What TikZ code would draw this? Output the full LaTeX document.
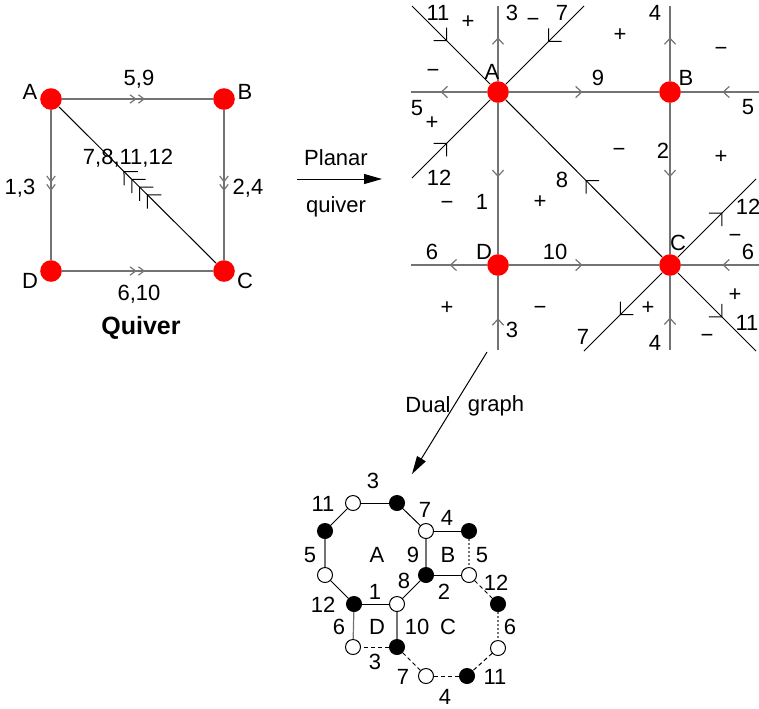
\documentclass[tikz,border=0pt]{standalone}
\usepackage{fontspec}
\setmainfont{Liberation Sans}
\usetikzlibrary{arrows.meta,decorations.markings}

\tikzset{
  sb/.tip={Straight Barb[length=3pt,width=5.6pt]},
  db/.tip={Straight Barb[length=2.8pt,width=4.2pt,sep=0.6pt]Straight Barb[length=2.8pt,width=4.2pt]},
  bb/.tip={Straight Barb[length=4.6pt,width=9.2pt]},
  qb/.tip={Straight Barb[length=4.9pt,width=9.8pt,sep=0pt]Straight Barb[length=4.9pt,width=9.8pt,sep=0pt]Straight Barb[length=4.9pt,width=9.8pt,sep=0pt]Straight Barb[length=4.9pt,width=9.8pt]},
  mk/.style 2 args={postaction={decorate,decoration={markings,mark=at position #1 with {\arrow{#2}}}}},
  vtx/.style={circle,fill=red,inner sep=0pt,minimum size=10.8pt},
  wv/.style={circle,draw,fill=white,inner sep=0pt,minimum size=7.5pt,line width=0.5pt},
  bv/.style={wv,fill=black},
  gl/.style={draw=black!55,line width=0.6pt},
  dl/.style={draw=black,line width=0.5pt},
  lbl/.style={inner sep=0pt,font=\fontsize{11}{13}\selectfont},
}

\begin{document}
\begin{tikzpicture}[x=0.5pt,y=-0.5pt,>={Triangle[length=9pt,width=5pt]}]
\useasboundingbox (0,0) rectangle (759,708);

% quiver
\node[vtx] (A) at (51,99) {};
\node[vtx] (B) at (224,99) {};
\node[vtx] (C) at (224,271) {};
\node[vtx] (D) at (51,271) {};
\draw[gl,mk={0.55}{db}] (A) -- (B);
\draw[gl,mk={0.54}{db}] (A) -- (D);
\draw[gl,mk={0.54}{db}] (B) -- (C);
\draw[gl,mk={0.55}{db}] (D) -- (C);
\draw[dl,mk={0.59}{qb}] (C) -- (A);
\foreach \x/\y/\t [count=\i] in {30/92/A,245/92/B,245/281/C,30/281/D,139/79/{5,9},20/188/{1,3},
    248/188/{2,4},139/294/{6,10},128/158/{7,8,11,12}}
  \node[lbl] (ql\i) at (\x,\y) {\t};
\node[lbl,font=\fontsize{12.5}{14}\bfseries] (qtitle) at (141,328) {Quiver};

% planar quiver arrow
\coordinate (p1) at (297,179);
\coordinate (p2) at (382,179);
\draw[line width=0.5pt,->] (p1) -- (p2);
\node[lbl] (plan) at (336,158) {Planar};
\node[lbl] (quiv) at (336,207) {quiver};

% planar quiver
\node[vtx] (pA) at (498,92) {};
\node[vtx] (pB) at (670,92) {};
\node[vtx] (pC) at (670,265) {};
\node[vtx] (pD) at (498,265) {};
\coordinate (aN) at (498,6);   \coordinate (bN) at (670,6);
\coordinate (aW) at (411,92);  \coordinate (bE) at (759,92);
\coordinate (dW) at (411,265); \coordinate (cE) at (759,265);
\coordinate (dS) at (498,350); \coordinate (cS) at (670,350);
\coordinate (aNW) at (412,6);  \coordinate (aNE) at (584,6);
\coordinate (aSW) at (412,178);\coordinate (cNE) at (756,179);
\coordinate (cSW) at (584,351);\coordinate (cSE) at (756,351);
\draw[gl,mk={0.58}{sb}] (pA) -- (aN);
\draw[gl,mk={0.49}{sb}] (pA) -- (pD);
\draw[gl,mk={0.61}{sb}] (pA) -- (aW);
\draw[gl,mk={0.49}{sb}] (pA) -- (pB);
\draw[gl,mk={0.58}{sb}] (pB) -- (bN);
\draw[gl,mk={0.49}{sb}] (pB) -- (pC);
\draw[gl,mk={0.47}{sb}] (bE) -- (pB);
\draw[gl,mk={0.49}{sb}] (pD) -- (dW);
\draw[gl,mk={0.43}{sb}] (dS) -- (pD);
\draw[gl,mk={0.49}{sb}] (pD) -- (pC);
\draw[gl,mk={0.47}{sb}] (cE) -- (pC);
\draw[gl,mk={0.44}{sb}] (cS) -- (pC);
\draw[dl,mk={0.45}{bb}] (aNW) -- (pA);
\draw[dl,mk={0.46}{bb}] (aNE) -- (pA);
\draw[dl,mk={0.45}{bb}] (aSW) -- (pA);
\draw[dl,mk={0.49}{bb}] (pC) -- (pA);
\draw[dl,mk={0.57}{bb}] (pC) -- (cNE);
\draw[dl,mk={0.54}{bb}] (pC) -- (cSW);
\draw[dl,mk={0.57}{bb}] (pC) -- (cSE);
\foreach \x/\y/\t [count=\i] in {438/13/11,468/22/+,512/13/3,533/22/−,562/13/7,655/13/4,620/35/+,
    721/51/−,433/73/−,492/72/A,598/78/9,686/78/B,417/108/5,432/123/+,748/107/5,619/152/−,
    663/151/2,721/157/+,439/178/12,562/180/8,748/207/12,447/205/−,482/202/1,540/202/+,
    678/243/C,735/238/−,432/252/6,484/252/D,555/252/10,748/252/6,735/295/+,447/308/+,
    540/310/−,648/308/+,512/330/3,747/323/11,583/337/7,655/343/4,707/338/−}
  \node[lbl] (pl\i) at (\x,\y) {\t};

% dual graph arrow
\coordinate (d1) at (487,352);
\coordinate (d2) at (412,474);
\draw[line width=0.5pt,->] (d1) -- (d2);
\node[lbl] (dual) at (428,405) {Dual};
\node[lbl] (grph) at (496,406) {graph};

% dual graph
\foreach \n/\x/\y in {w1/353/503,w2/426/531,w3/325/575,w4/397/604,w5/469/575,w6/498/648,w7/426/676,w8/353/647}
  \node[wv] (\n) at (\x,\y) {};
\foreach \n/\x/\y in {b1/397/503,b2/469/531,b3/325/531,b4/354/604,b5/426/575,b6/498/604,b7/467/676,b8/397/647}
  \node[bv] (\n) at (\x,\y) {};
\foreach \a/\b in {w1/b1,b1/w2,w2/b2,b3/w1,w3/b4,b4/w4,w4/b5,b5/w5}
  \draw[dl] (\a) -- (\b);
\foreach \a/\b in {b3/w3,w2/b5,b4/w8,w4/b8}
  \draw[gl] (\a) -- (\b);
\foreach \a/\b in {b2/w5,b6/w6}
  \draw[draw=black!55,line width=0.6pt,dash pattern=on 0.8pt off 1.2pt] (\a) -- (\b);
\foreach \a/\b in {w5/b6,w6/b7,b7/w7,w7/b8,b8/w8}
  \draw[dl,dash pattern=on 2pt off 1.5pt] (\a) -- (\b);
\foreach \x/\y/\t [count=\i] in {373/481/3,323/504/11,425/510/7,447/518/4,310/555/5,377/555/A,
    413/555/9,448/555/B,482/555/5,375/592/1,404/581/8,444/592/2,496/583/12,323/605/12,
    339/627/6,377/627/D,417/627/10,448/627/C,510/627/6,375/662/3,403/677/7,495/677/11,445/697/4}
  \node[lbl] (dl\i) at (\x,\y) {\t};
\end{tikzpicture}
\end{document}
